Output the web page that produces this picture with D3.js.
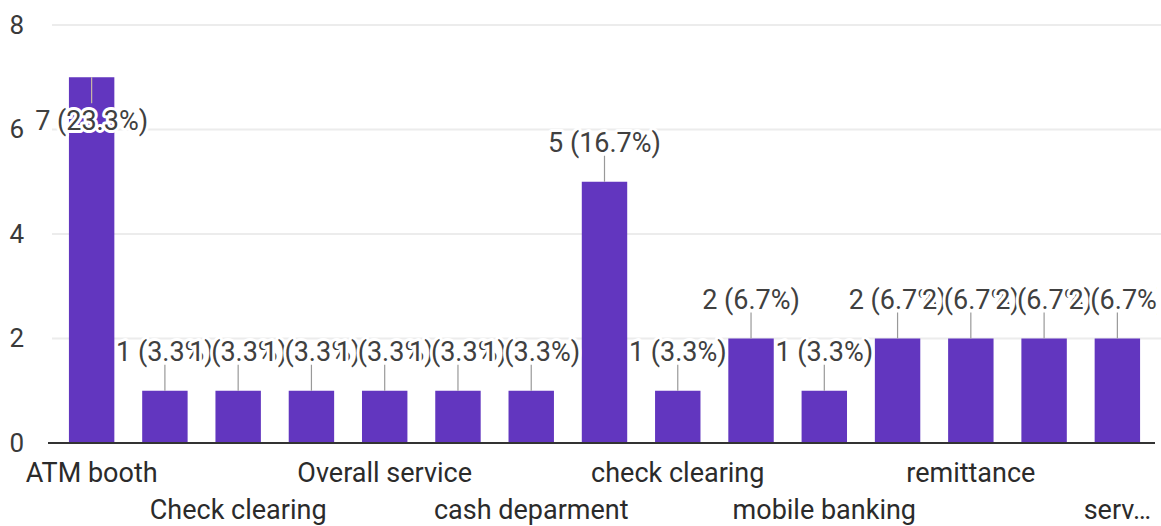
<!DOCTYPE html>
<html>
<head>
<meta charset="utf-8">
<script src="https://cdn.jsdelivr.net/npm/d3@7"></script>
<style>
  html, body { margin: 0; padding: 0; background: #fff; }
  svg { display: block; font-family: Roboto, "Noto Sans", sans-serif; }
</style>
</head>
<body>
<svg id="chart" width="1161" height="526"></svg>
<script>
// Responses per area (sorted the way the form lists them)
const categories = [
  "ATM booth", "Bill payment", "Check clearing", "Loan section",
  "Overall service", "account opening", "cash deparment", "cash department",
  "check clearing", "loan processing", "mobile banking", "online banking",
  "remittance", "remittance service", "service charge"
];
const counts = [7, 1, 1, 1, 1, 1, 1, 5, 1, 2, 1, 2, 2, 2, 2];
const yTicks = [0, 2, 4, 6, 8];

const total = d3.sum(counts);
const data = categories.map((c, i) => ({ name: c, value: counts[i], i }));

const W = 1161, H = 526;
const plot = { left: 55, right: 1154, top: 25, bottom: 443 };
const FONT = 26, LABEL_FONT = 27;

const svg = d3.select("#chart");

// Annotations are clipped to the drawing area
svg.append("defs").append("clipPath").attr("id", "area-clip")
  .append("rect").attr("x", 0).attr("y", 0).attr("width", 1157).attr("height", H);

const x = d3.scaleBand()
  .domain(categories)
  .range([plot.left, plot.right])
  .paddingInner(0.38)
  .paddingOuter(0.19);

const y = d3.scaleLinear()
  .domain([0, d3.max(yTicks)])
  .range([plot.bottom, plot.top]);

// Horizontal gridlines
svg.append("g")
  .selectAll("line")
  .data(yTicks.filter(t => t > 0))
  .join("line")
  .attr("x1", 52).attr("x2", W)
  .attr("y1", d => y(d)).attr("y2", d => y(d))
  .attr("stroke", "#ececec")
  .attr("stroke-width", 2);

// Y axis labels
const yAxis = d3.axisLeft(y).tickValues(yTicks).tickSize(0).tickPadding(0);
const yG = svg.append("g").attr("transform", "translate(24,0)").call(yAxis);
yG.select(".domain").remove();
yG.selectAll("text")
  .attr("font-size", FONT)
  .attr("font-family", "Roboto, sans-serif")
  .attr("fill", "#3a3a3a");

// Bars
svg.append("g")
  .selectAll("rect")
  .data(data)
  .join("rect")
  .attr("x", d => x(d.name))
  .attr("width", x.bandwidth())
  .attr("y", d => y(d.value))
  .attr("height", d => y(0) - y(d.value))
  .attr("fill", "#6236bf");

// Baseline
svg.append("line")
  .attr("x1", 48).attr("x2", 1155)
  .attr("y1", y(0)).attr("y2", y(0))
  .attr("stroke", "#333")
  .attr("stroke-width", 2);

// Category labels: every other one, staggered in two rows
const xAxis = d3.axisBottom(x).tickSize(0).tickPadding(0)
  .tickFormat((d, i) => i % 2 === 0 ? d : "");
const xG = svg.append("g").attr("transform", `translate(0,${y(0)})`).call(xAxis);
xG.select(".domain").remove();
xG.selectAll(".tick text")
  .attr("font-size", LABEL_FONT)
  .attr("font-family", "Roboto, sans-serif")
  .attr("fill", "#2b2b2b")
  .attr("dy", null)
  .attr("y", (d, i) => (i / 2) % 2 === 0 ? 39 : 76);

// Shorten a label that would run past the right edge
xG.selectAll(".tick text").each(function (d) {
  const el = d3.select(this);
  const cx = x(d) + x.bandwidth() / 2;
  const maxW = 2 * (W - cx) - 14;
  let s = el.text();
  if (!s || this.getComputedTextLength() <= maxW) return;
  while (s.length > 1) {
    s = s.slice(0, -1);
    el.text(s + "…");
    if (this.getComputedTextLength() <= maxW) break;
  }
});

// Value annotations with stems
const STEM = 26;
const ann = svg.append("g").attr("clip-path", "url(#area-clip)");
data.forEach(d => {
  const cx = x(d.name) + x.bandwidth() / 2;
  const top = y(d.value);
  const inside = top - STEM - 4 - FONT < y(d3.max(yTicks)) + 30;
  const stemEnd = inside ? top + STEM : top - STEM;
  const base = inside ? top + 53 : top - 30;
  ann.append("line")
    .attr("x1", cx).attr("x2", cx)
    .attr("y1", top).attr("y2", stemEnd)
    .attr("stroke", inside ? "#c9b9a6" : "#999")
    .attr("stroke-width", 1.2);
  const pct = (d.value / total * 100).toFixed(1);
  ann.append("text")
    .attr("x", cx)
    .attr("y", base)
    .attr("text-anchor", "middle")
    .attr("font-size", LABEL_FONT)
    .attr("font-family", "Roboto, sans-serif")
    .attr("fill", "#404040")
    .attr("stroke", "#fff")
    .attr("stroke-width", 6)
    .attr("stroke-linejoin", "round")
    .attr("paint-order", "stroke")
    .text(`${d.value} (${pct}%)`);
});
</script>
</body>
</html>
